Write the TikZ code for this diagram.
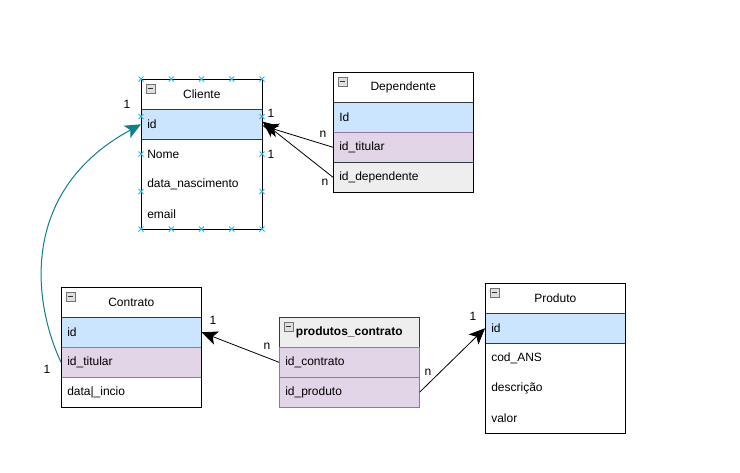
\documentclass[tikz,border=0pt]{standalone}
\usepackage{fontspec}
\setmainfont{Liberation Sans}
\usetikzlibrary{arrows.meta}
\definecolor{rowblue}{HTML}{CCE5FF}
\definecolor{rowpurple}{HTML}{E1D5E7}
\definecolor{edgepurple}{HTML}{9673A6}
\definecolor{rowgrey}{HTML}{EEEEEE}
\definecolor{edgedark}{HTML}{36393D}
\definecolor{tealline}{HTML}{0E8088}
\definecolor{handle}{HTML}{29B6F2}
\tikzset{
  txt/.style={font=\fontsize{9}{11}\selectfont},
  cell/.style={txt, anchor=north west, minimum height=22.5pt, inner ysep=0pt,
    inner xsep=4.5pt, text width=#1, align=left},
  head/.style={txt, anchor=north west, minimum height=22.5pt, inner sep=0pt,
    minimum width=#1, align=center, draw=black},
  blue/.style={fill=rowblue, draw=edgedark},
  purple/.style={fill=rowpurple, draw=edgepurple},
  grey/.style={fill=rowgrey, draw=edgedark},
  frame/.style={draw=black, line width=0.6pt},
  btn/.style={draw=gray!90!black, fill=gray!25, line width=0.5pt},
  rel/.style={draw=black, line width=0.6pt, -{Stealth[length=12pt, width=10.5pt, inset=3pt]}},
  relteal/.style={draw=tealline, line width=0.75pt,
    -{Stealth[length=12pt, width=10.5pt, inset=3pt]}},
  lbl/.style={txt, inner sep=0pt},
  hmark/.style={draw=handle, line width=0.6pt}
}
\newcommand{\minusbtn}[1]{%
  \draw[btn] ([shift={(5,5)}]#1.north west) rectangle ++(9,9);
  \draw[black!80] ([shift={(7,9.5)}]#1.north west) -- ++(5,0);}
\begin{document}
\begin{tikzpicture}[x=0.75pt, y=-0.75pt]
  \useasboundingbox[fill=white] (0,0) rectangle (740,472);

  % ---- Cliente ----
  \node[head=90.75pt] (cli_h) at (141,79) {Cliente};
  \node[cell=81.75pt, blue] (cli_id) at (141,109) {id};
  \node[cell=81.75pt] (cli_nome) at (141,139) {Nome};
  \node[cell=81.75pt] (cli_nasc) at (141,169) {data\_nascimento};
  \node[cell=81.75pt] (cli_mail) at (141,199) {email};
  \draw[frame] (cli_h.north west) rectangle (cli_mail.south east);
  \minusbtn{cli_h}

  % ---- Dependente ----
  \node[head=105pt] (dep_h) at (333,72) {Dependente};
  \node[cell=96pt, blue] (dep_id) at (333,102) {Id};
  \node[cell=96pt, purple] (dep_tit) at (333,132) {id\_titular};
  \node[cell=96pt, grey] (dep_dep) at (333,162) {id\_dependente};
  \draw[frame] (dep_h.north west) rectangle (dep_dep.south east);
  \minusbtn{dep_h}

  % ---- Contrato ----
  \node[head=105pt] (con_h) at (61,287) {Contrato};
  \node[cell=96pt, blue] (con_id) at (61,317) {id};
  \node[cell=96pt, purple] (con_tit) at (61,347) {id\_titular};
  \node[cell=96pt] (con_ini) at (61,377) {data|\_incio};
  \draw[frame] (con_h.north west) rectangle (con_ini.south east);
  \minusbtn{con_h}

  % ---- produtos_contrato ----
  \node[head=105pt, fill=rowgrey, draw=edgedark, font=\fontsize{9}{11}\selectfont\bfseries] (pc_h) at (279,317) {produtos\_contrato};
  \node[cell=96pt, purple] (pc_con) at (279,347) {id\_contrato};
  \node[cell=96pt, purple] (pc_prod) at (279,377) {id\_produto};
  \minusbtn{pc_h}

  % ---- Produto ----
  \node[head=105pt] (pro_h) at (485,283) {Produto};
  \node[cell=96pt, blue] (pro_id) at (485,313) {id};
  \node[cell=96pt] (pro_ans) at (485,343) {cod\_ANS};
  \node[cell=96pt] (pro_desc) at (485,373) {descrição};
  \node[cell=96pt] (pro_val) at (485,403) {valor};
  \draw[frame] (pro_h.north west) rectangle (pro_val.south east);
  \minusbtn{pro_h}

  % ---- relationships ----
  \draw[relteal] (con_tit.west) .. controls (32,300) and (20,190) .. (cli_id.west);
  \draw[rel] (dep_tit.west) -- ([yshift=-1]cli_id.east);
  \draw[rel] (dep_dep.west) -- ([yshift=2]cli_id.east);
  \draw[rel] (pc_con.west) -- (con_id.east);
  \draw[rel] (pc_prod.east) -- (pro_id.west);

  % ---- cardinalities ----
  \node[lbl] (c1) at (127,104) {1};
  \node[lbl] (c2) at (47,369) {1};
  \node[lbl] (c3) at (271,113) {1};
  \node[lbl] (c4) at (271,154) {1};
  \node[lbl] (c5) at (323,134) {n};
  \node[lbl] (c6) at (325,182) {n};
  \node[lbl] (c7) at (213,320) {1};
  \node[lbl] (c8) at (267,346) {n};
  \node[lbl] (c9) at (428,372) {n};
  \node[lbl] (c10) at (473,316) {1};

  % ---- selection handles on Cliente ----
  \foreach \hx in {141,171.25,201.5,231.75,262} {
    \foreach \hy in {79,229} {
      \draw[hmark] (\hx-2.5,\hy-2.5) -- (\hx+2.5,\hy+2.5) (\hx-2.5,\hy+2.5) -- (\hx+2.5,\hy-2.5);
    }
  }
  \foreach \hy in {116.5,154,191.5} {
    \foreach \hx in {141,262} {
      \draw[hmark] (\hx-2.5,\hy-2.5) -- (\hx+2.5,\hy+2.5) (\hx-2.5,\hy+2.5) -- (\hx+2.5,\hy-2.5);
    }
  }
\end{tikzpicture}
\end{document}
